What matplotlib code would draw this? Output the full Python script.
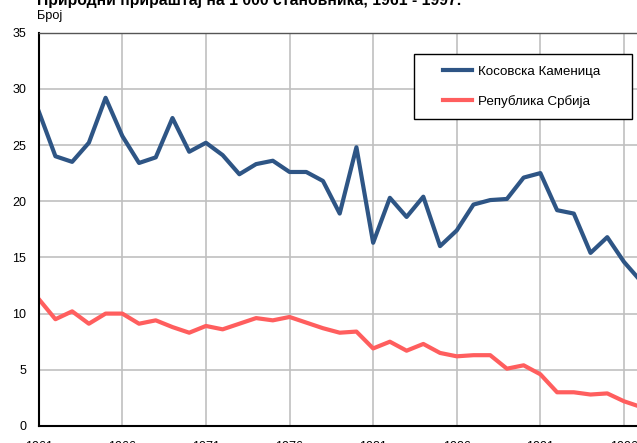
import matplotlib
matplotlib.use("Agg")
import matplotlib.pyplot as plt
from matplotlib.patches import Rectangle

plt.rcParams['font.family'] = ['Liberation Sans', 'DejaVu Sans']

years = list(range(1961, 1998))
kamenica = [28.0, 24.0, 23.5, 25.2, 29.2, 25.8, 23.4, 23.9, 27.4, 24.4,
            25.2, 24.1, 22.4, 23.3, 23.6, 22.6, 22.6, 21.8, 18.9, 24.8,
            16.3, 20.3, 18.6, 20.4, 16.0, 17.4, 19.7, 20.1, 20.2, 22.1,
            22.5, 19.2, 18.9, 15.4, 16.8, 14.6, 12.9]
srbija = [11.3, 9.5, 10.2, 9.1, 10.0, 10.0, 9.1, 9.4, 8.8, 8.3,
          8.9, 8.6, 9.1, 9.6, 9.4, 9.7, 9.2, 8.7, 8.3, 8.4,
          6.9, 7.5, 6.7, 7.3, 6.5, 6.2, 6.3, 6.3, 5.1, 5.4,
          4.6, 3.0, 3.0, 2.8, 2.9, 2.2, 1.7]
labels = ['Косовска Каменица', 'Република Србија']
colors = ['#2E5585', '#FF5E5E']

W, H = 637, 443
fig = plt.figure(figsize=(W / 100, H / 100), dpi=100)
ax = fig.add_axes([38.7 / W, 17 / H, 602 / W, 393.4 / H])

ax.plot(years, kamenica, color=colors[0], lw=3, label=labels[0])
ax.plot(years, srbija, color=colors[1], lw=3, label=labels[1])

ax.set_xlim(1961, 1997)
ax.set_ylim(0, 35)
ax.set_xticks(range(1961, 1997, 5))
ax.set_yticks(range(0, 36, 5))
ax.grid(True, color='#c0c0c0', lw=1.2)
ax.set_axisbelow(True)
ax.tick_params(length=0, labelsize=9, colors='black')
ax.tick_params(axis='x', pad=11)
ax.tick_params(axis='y', pad=9)
for s in ['left', 'bottom']:
    ax.spines[s].set_color('black')
    ax.spines[s].set_linewidth(1.5)
ax.spines['top'].set_color('#555555')
ax.spines['top'].set_linewidth(1)
ax.spines['right'].set_visible(False)

# legend box
box = Rectangle((414 / W, 1 - 119 / H), 218 / W, 65 / H,
                transform=fig.transFigure, facecolor='white',
                edgecolor='black', lw=1, zorder=4, clip_on=False)
ax.add_patch(box)
leg = ax.legend(loc='center left', bbox_to_anchor=(443 / W, 1 - 86.7 / H),
                bbox_transform=fig.transFigure, frameon=False, fontsize=9.6,
                borderpad=0, borderaxespad=0, handlelength=2.2,
                handletextpad=0.45, labelspacing=1.25)
leg.set_zorder(6)

fig.text(37 / W, 1 - 5 / H, 'Природни прираштај на 1 000 становника, 1961 - 1997.',
         fontsize=11.3, fontweight='bold', va='baseline', ha='left')
fig.text(37 / W, 1 - 19 / H, 'Број', fontsize=9.2, va='baseline', ha='left')

fig.savefig('out.png', dpi=100)
